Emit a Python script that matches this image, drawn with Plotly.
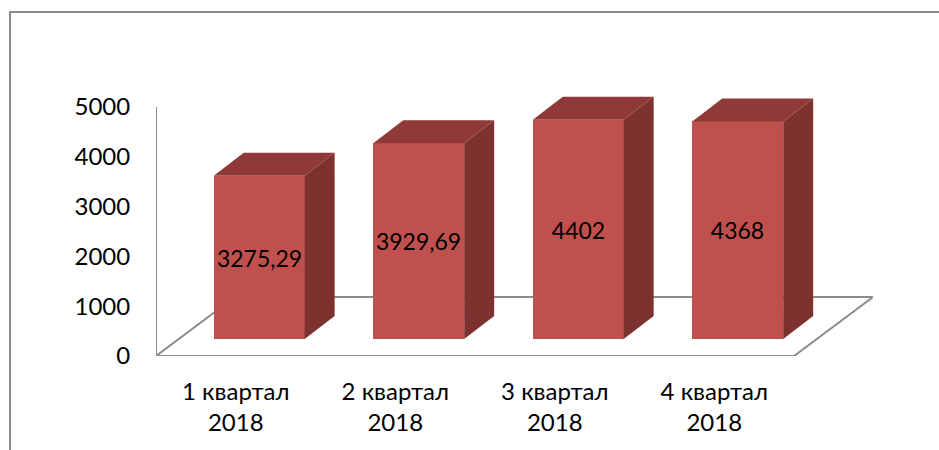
import plotly.graph_objects as go

categories = ["1 квартал<br>2018", "2 квартал<br>2018", "3 квартал<br>2018", "4 квартал<br>2018"]
values = [3275.29, 3929.69, 4402, 4368]
value_labels = ["3275,29", "3929,69", "4402", "4368"]
y_ticks = [0, 1000, 2000, 3000, 4000, 5000]

# Oblique projection of the 3D chart, in axis units
FLOOR_DX = 0.495     # floor depth, category units
FLOOR_DY = 1185      # floor depth, value units
BAR_SHIFT = 0.147    # bar offset from the category centre
BAR_W = 0.57
BAR_BASE = 341       # bar front baseline above the floor's front edge
BAR_DX = 0.188       # bar depth
BAR_DY = 462

FRONT = "#C0504D"
SIDE = "#7E3230"
TOP = "#8F3A39"
LINE = "#8C8C8C"
TEXT = "#000000"
FONT = "Lato, 'Open Sans', sans-serif"

WIDTH, HEIGHT = 939, 450
L, R, T, B = 156, 66, 92, 94
X_MIN, X_MAX = -0.5, 3.5 + FLOOR_DX
Y_MAX = 5300

fig = go.Figure()
xs = list(range(len(values)))
centers = [x + BAR_SHIFT for x in xs]

fig.add_trace(go.Bar(
    x=centers, y=values, base=BAR_BASE, width=BAR_W,
    marker=dict(color=FRONT, line=dict(width=0)),
    text=value_labels, textposition="inside", insidetextanchor="middle",
    textangle=0, constraintext="none",
    insidetextfont=dict(family=FONT, size=23, color=TEXT),
    hoverinfo="skip", showlegend=False,
))

for c, v in zip(centers, values):
    x0, x1 = c - BAR_W / 2, c + BAR_W / 2
    y0, y1 = BAR_BASE, BAR_BASE + v
    fig.add_trace(go.Scatter(
        x=[x1, x1 + BAR_DX, x1 + BAR_DX, x1, x1],
        y=[y0, y0 + BAR_DY, y1 + BAR_DY, y1, y0],
        mode="lines", fill="toself", fillcolor=SIDE, line=dict(width=0),
        hoverinfo="skip", showlegend=False,
    ))
    fig.add_trace(go.Scatter(
        x=[x0, x1, x1 + BAR_DX, x0 + BAR_DX, x0],
        y=[y1, y1, y1 + BAR_DY, y1 + BAR_DY, y1],
        mode="lines", fill="toself", fillcolor=TOP, line=dict(width=0),
        hoverinfo="skip", showlegend=False,
    ))

frame_left = (10 - L) / (WIDTH - L - R)
frame_right = (WIDTH - L) / (WIDTH - L - R)
frame_top = (HEIGHT - 12 - B) / (HEIGHT - T - B)
frame_bottom = (0 - B) / (HEIGHT - T - B)

shapes = [
    dict(type="path", layer="below", xref="x", yref="y",
         path=f"M{X_MIN},0 L3.5,0 L{3.5 + FLOOR_DX},{FLOOR_DY} L{X_MIN + FLOOR_DX},{FLOOR_DY} Z",
         line=dict(color=LINE, width=2)),
    dict(type="line", layer="below", xref="x", yref="y",
         x0=X_MIN, x1=X_MIN, y0=0, y1=5000, line=dict(color=LINE, width=2)),
    # outer chart frame, running off the picture at the bottom and right
    dict(type="path", layer="below", xref="paper", yref="paper",
         path=f"M{frame_left},{frame_bottom} L{frame_left},{frame_top} L{frame_right},{frame_top}",
         line=dict(color=LINE, width=2)),
]

fig.update_layout(
    width=WIDTH, height=HEIGHT, autosize=False,
    margin=dict(l=L, r=R, t=T, b=B, pad=0),
    paper_bgcolor="white", plot_bgcolor="rgba(0,0,0,0)",
    shapes=shapes, bargap=0,
    font=dict(family=FONT, color=TEXT),
    xaxis=dict(range=[X_MIN, X_MAX], tickmode="array", tickvals=xs, ticktext=categories,
               showgrid=False, zeroline=False, showline=False,
               ticks="outside", ticklen=14, tickcolor="rgba(0,0,0,0)",
               tickfont=dict(family=FONT, size=24, color=TEXT), tickangle=0),
    yaxis=dict(range=[0, Y_MAX], tickmode="array", tickvals=y_ticks,
               showgrid=False, zeroline=False, showline=False,
               ticks="outside", ticklen=20, tickcolor="rgba(0,0,0,0)",
               tickfont=dict(family=FONT, size=24, color=TEXT)),
)

fig.write_html("out.html", config={"displayModeBar": False},
               post_script="document.body.style.margin='0';")
